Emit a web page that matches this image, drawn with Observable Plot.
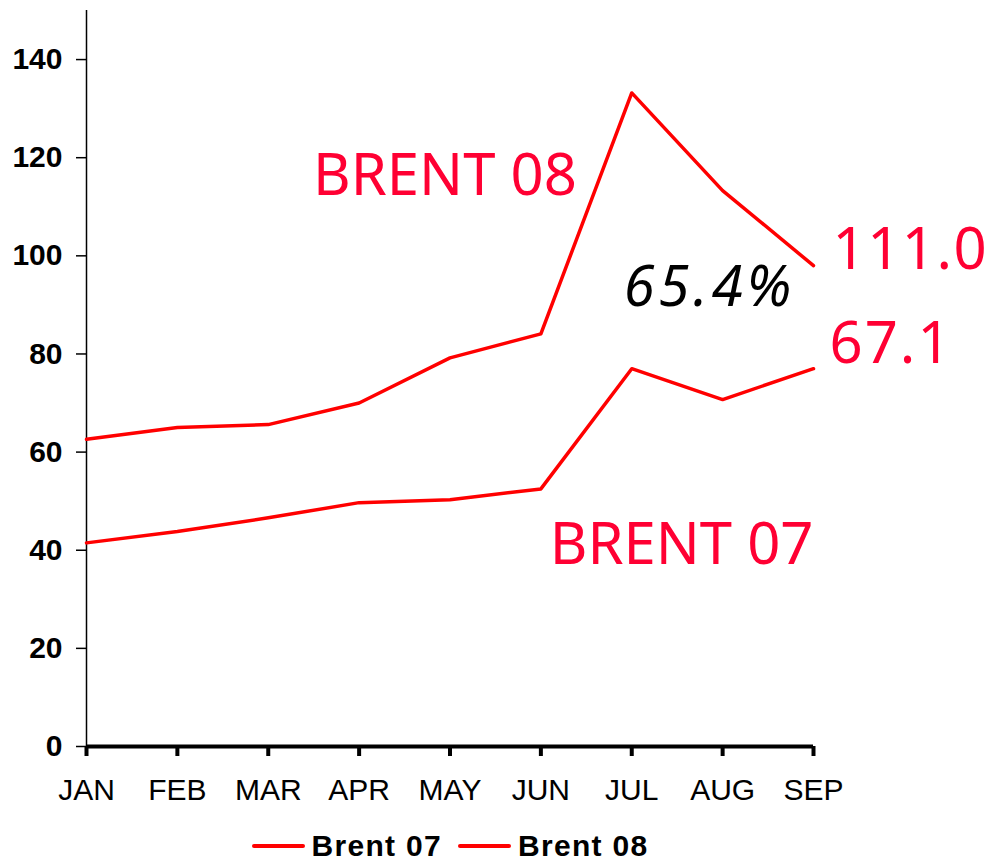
<!DOCTYPE html>
<html>
<head>
<meta charset="utf-8">
<script src="https://cdn.jsdelivr.net/npm/d3@7"></script>
<script src="https://cdn.jsdelivr.net/npm/@observablehq/plot@0.6"></script>
<style>
  html, body { margin: 0; background: #fff; overflow: hidden; }
  #chart svg { display: block; }
  #legend { display: flex; justify-content: center; align-items: center; gap: 16px;
    font-family: "Liberation Sans", Arial, sans-serif; font-weight: bold; font-size: 30px; letter-spacing: 1.3px; color: #000;
    width: 992px; box-sizing: border-box; padding-right: 92px; padding-top: 13px; height: 47px; }
  .item { display: flex; align-items: center; gap: 7px; }
  .swatch { width: 53px; height: 4px; background: #ff0000; border-radius: 2px; }
</style>
</head>
<body>
<div id="chart"></div>
<div id="legend"></div>
<script>
const months = ["JAN","FEB","MAR","APR","MAY","JUN","JUL","AUG","SEP"];
const brent07 = [41.5, 43.8, 46.6, 49.7, 50.3, 52.5, 77.0, 70.7, 77.0];
const brent08 = [62.6, 65.0, 65.6, 70.0, 79.2, 84.1, 133.2, 113.3, 98.0];
const seriesNames = ["Brent 07", "Brent 08"];
const yTicks = [0, 20, 40, 60, 80, 100, 120, 140];
const labelEnd08 = "111.0";
const labelEnd07 = "67.1";
const labelPct = "65.4%";
const labelSeries08 = "BRENT 08";
const labelSeries07 = "BRENT 07";

const rows = [
  ...months.map((m, i) => ({series: seriesNames[0], month: m, value: brent07[i]})),
  ...months.map((m, i) => ({series: seriesNames[1], month: m, value: brent08[i]}))
];
const last = months.length - 1;
const annRed = "#ff0033";
const annFont = "'Noto Sans', 'Open Sans', sans-serif";

const chart = Plot.plot({
  width: 992,
  height: 816,
  marginLeft: 86,
  marginRight: 179,
  marginTop: 10,
  marginBottom: 70,
  style: {fontFamily: "'Liberation Sans', Arial, sans-serif", color: "#000", background: "#fff"},
  x: {type: "point", domain: months, padding: 0, round: false, label: null},
  y: {domain: [0, 150], label: null},
  marks: [
    Plot.ruleX([months[0]], {y1: 0, y2: 150, stroke: "#000", strokeWidth: 1.5}),
    Plot.axisY({ticks: yTicks, tickSize: 10, tickPadding: 14, fontSize: 30, fontWeight: "bold", strokeWidth: 1.5, label: null}),
    Plot.axisX({tickSize: 10, tickPadding: 22, fontSize: 30, strokeWidth: 4, label: null}),
    Plot.ruleY([0], {stroke: "#000", strokeWidth: 4}),
    Plot.line(rows, {x: "month", y: "value", z: "series", stroke: "#ff0000", strokeWidth: 3.5}),
    Plot.text([labelEnd08], {x: () => months[last], y: () => brent08[last], text: d => d, textAnchor: "start", dx: 19, dy: -15, fontSize: 58, fill: annRed, fontFamily: annFont}),
    Plot.text([labelEnd07], {x: () => months[last], y: () => brent07[last], text: d => d, textAnchor: "start", dx: 16, dy: -24, fontSize: 58, fill: annRed, fontFamily: annFont}),
    Plot.text([labelPct], {x: () => months[7], y: () => brent07[7], text: d => d, textAnchor: "start", dx: -99, dy: -112, fontSize: 56, fontStyle: "italic", fill: "#000", fontFamily: annFont}),
    Plot.text([labelSeries08], {x: () => months[5], y: () => brent08[5], text: d => d, textAnchor: "end", dx: 36, dy: -157, fontSize: 58, fill: annRed, fontFamily: annFont}),
    Plot.text([labelSeries07], {x: () => months[7], y: () => brent07[7], text: d => d, textAnchor: "middle", dx: -41, dy: 146, fontSize: 58, fill: annRed, fontFamily: annFont})
  ]
});
// letter spacing for annotation labels
const spacing = {[labelPct]: 4, [labelEnd08]: 1.5, [labelEnd07]: 2};
d3.select(chart).selectAll("text").each(function() {
  const s = spacing[this.textContent];
  if (s != null) this.setAttribute("letter-spacing", s);
});
document.getElementById("chart").appendChild(chart);

const legend = document.getElementById("legend");
seriesNames.forEach(name => {
  const item = document.createElement("div");
  item.className = "item";
  const sw = document.createElement("span");
  sw.className = "swatch";
  const t = document.createElement("span");
  t.textContent = name;
  item.appendChild(sw); item.appendChild(t);
  legend.appendChild(item);
});
</script>
</body>
</html>
